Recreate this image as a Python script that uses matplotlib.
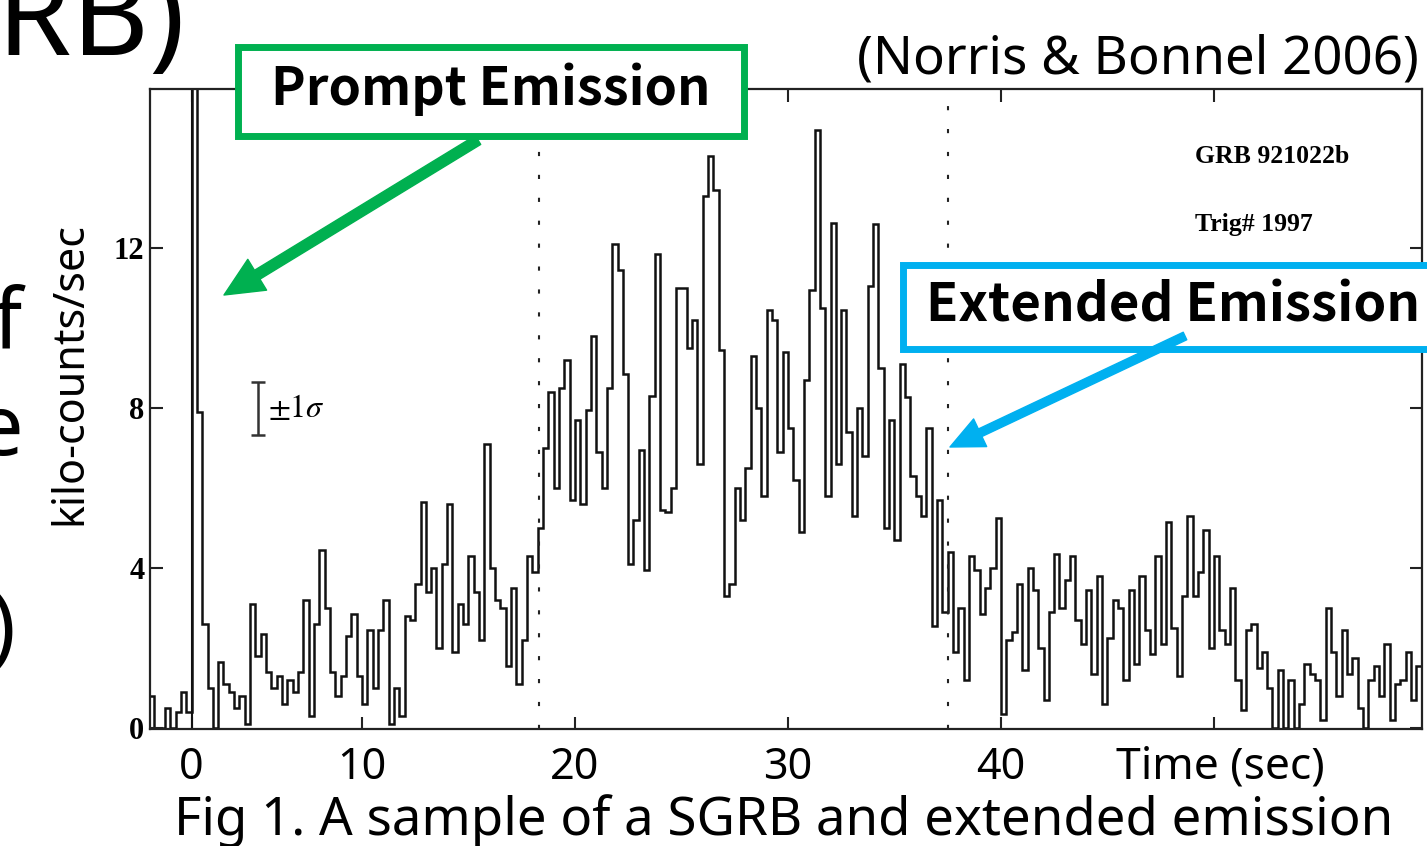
import numpy as np
import matplotlib.pyplot as plt
from matplotlib.patches import Rectangle, FancyArrowPatch

# canvas size in pixels (the reference is a slide crop)
W, H = 1427, 846

# GRB 921022b light curve, 0.25 s bins, kilo-counts/sec
bin_width = 0.25
counts = [
    0.8, 0.0, 0.0, 0.5, 0.0, 0.4, 0.9, 0.4, 25.0, 7.9,
    2.6, 1.0, 0.0, 1.65, 1.1, 0.9, 0.5, 0.8, 0.1, 3.1,
    1.8, 2.35, 1.4, 1.0, 1.3, 0.6, 1.2, 0.9, 1.4, 3.2,
    0.3, 2.6, 4.45, 3.0, 1.4, 0.8, 1.3, 2.3, 2.85, 1.3,
    0.6, 2.45, 1.0, 2.45, 3.2, 0.1, 1.0, 0.3, 2.8, 2.7,
    3.6, 5.65, 3.4, 4.0, 2.0, 4.1, 5.6, 1.9, 3.1, 2.6,
    4.3, 3.4, 2.2, 7.1, 4.0, 3.2, 3.0, 1.55, 3.5, 1.1,
    2.2, 4.3, 3.9, 5.0, 7.0, 8.4, 6.0, 8.5, 9.2, 5.7,
    7.7, 5.6, 7.95, 9.8, 6.9, 6.0, 8.5, 12.1, 11.45, 8.85,
    4.1, 5.2, 6.95, 3.95, 8.3, 11.85, 5.45, 5.4, 6.0, 11.0,
    11.0, 9.5, 10.2, 6.6, 13.3, 14.3, 13.45, 9.45, 3.3, 3.6,
    6.0, 5.2, 6.5, 9.3, 8.0, 5.8, 10.45, 10.2, 6.9, 9.4,
    7.5, 6.2, 4.9, 8.7, 10.95, 14.95, 10.5, 5.8, 12.63, 6.6,
    10.46, 7.4, 5.3, 8.0, 6.8, 11.05, 12.6, 9.0, 5.0, 7.7,
    4.7, 9.1, 8.28, 6.3, 5.8, 5.3, 7.5, 2.55, 5.7, 2.9,
    4.4, 1.9, 3.0, 1.2, 4.3, 3.95, 2.85, 3.5, 4.0, 5.25,
    0.35, 2.2, 2.4, 3.6, 1.45, 4.0, 3.45, 2.0, 0.7, 2.9,
    4.35, 3.0, 3.7, 4.3, 2.7, 2.1, 3.45, 1.35, 3.8, 0.6,
    2.25, 3.2, 3.0, 1.2, 3.45, 1.6, 3.8, 2.45, 1.85, 4.3,
    2.1, 5.15, 2.5, 1.3, 3.3, 5.3, 3.3, 3.9, 4.95, 2.0,
    4.3, 2.45, 2.1, 3.5, 1.2, 0.45, 2.45, 2.6, 1.5, 1.9,
    1.0, 0.0, 1.45, 0.0, 1.2, 0.0, 0.6, 1.6, 1.35, 1.2,
    0.2, 3.0, 1.9, 0.8, 2.45, 1.35, 1.75, 0.5, 0.0, 1.2,
    1.55, 0.8, 2.1, 0.2, 1.1, 1.2, 1.9, 0.7, 1.55,
]

trigger_time = 2.0
ee_bounds = [18.3, 37.5]          # dotted lines
xtick_pos = [2.0, 10, 20, 30, 40, 50]
xtick_lab = ['0', '10', '20', '30', '40', '']
ytick_pos = [0, 4, 8, 12]
sigma_t, sigma_y, sigma_err = 5.12, 7.99, 0.66

green = '#00B050'
blue = '#00B0F0'
sans = ['Noto Sans', 'DejaVu Sans']
jp = ['Noto Sans CJK JP', 'DejaVu Sans']


def fx(x):
    return x / W


def fy(y):
    return 1 - y / H


fig = plt.figure(figsize=(W / 100, H / 100), dpi=100)
ax_w = (1422 - 150) / W
ax = fig.add_axes([fx(150), fy(729), ax_w, (729 - 89) / H])

edges = np.arange(len(counts) + 1) * bin_width
ax.stairs(counts, edges, color='#111111', lw=1.8, baseline=None)

ax.axvline(trigger_time, color='#111111', lw=1.5)
for t in ee_bounds:
    ax.axvline(t, color='#222222', lw=1.5, ls=(0, (2, 9)))

# +-1 sigma error bar
ax.errorbar([sigma_t], [sigma_y], yerr=[sigma_err], color='#333333',
            capsize=5, elinewidth=1.8, capthick=1.8, fmt='none')
ax.text(sigma_t + 0.45, sigma_y, r'$\pm 1\sigma$', fontsize=23,
        va='center', ha='left', math_fontfamily='stix')

ax.text(49.1, 14.3, 'GRB 921022b', fontsize=18.5, fontfamily='Liberation Serif',
        fontweight='bold', va='center')
ax.text(49.1, 12.6, 'Trig# 1997', fontsize=18.5, fontfamily='Liberation Serif',
        fontweight='bold', va='center')

ax.set_xlim(0.05, 59.77)
ax.set_ylim(-0.03, 15.98)
ax.set_xticks(xtick_pos)
ax.set_xticklabels(xtick_lab, fontfamily=sans, fontsize=31)
ax.set_yticks(ytick_pos)
ax.set_yticklabels([str(v) for v in ytick_pos], fontfamily='Liberation Serif',
                   fontsize=22, fontweight='bold')
ax.tick_params(direction='in', length=9, width=1.5, top=True, right=True,
               color='#222222')
ax.tick_params(axis='x', pad=12)
ax.tick_params(axis='y', pad=4)
for s in ax.spines.values():
    s.set_linewidth(1.6)
    s.set_color('#222222')

ax.set_ylabel('kilo-counts/sec', fontfamily=sans, fontsize=31)
ax.yaxis.set_label_coords((92 - 150) / 1272, 0.555)

fig.text(fx(1220), fy(778), 'Time (sec)', fontfamily=sans, fontsize=32,
         ha='center', va='baseline')
fig.text(fx(784), fy(835), 'Fig 1. A sample of a SGRB and extended emission',
         fontfamily=sans, fontsize=38, ha='center', va='baseline')
fig.text(fx(1419), fy(60), '(Norris & Bonnel 2006)', fontfamily=sans,
         fontsize=38, ha='right', va='center')

# leftovers of the slide text on the left edge
fig.text(fx(186), fy(55), 'GRB)', fontfamily=sans, fontsize=86,
         ha='right', va='baseline')
fig.text(fx(22), fy(348), 'of', fontfamily=sans, fontsize=60, ha='right',
         va='baseline')
fig.text(fx(24), fy(455), 'the', fontfamily=sans, fontsize=60, ha='right',
         va='baseline')
fig.text(fx(16), fy(655), '(1)', fontfamily=sans, fontsize=60, ha='right',
         va='baseline')

# annotation boxes
fig.add_artist(Rectangle((fx(237.5), fy(136)), fx(744 - 237.5), (136 - 47) / H,
                         transform=fig.transFigure, facecolor='white',
                         edgecolor=green, lw=5))
fig.text(fx(491), fy(89), 'Prompt Emission', fontfamily=jp, fontsize=37.5,
         fontweight='bold', ha='center', va='center')
fig.add_artist(Rectangle((fx(902.5), fy(349)), fx(1440 - 902.5), (349 - 265.5) / H,
                         transform=fig.transFigure, facecolor='white',
                         edgecolor=blue, lw=5))
fig.text(fx(1173), fy(306), 'Extended Emission', fontfamily=jp, fontsize=38,
         fontweight='bold', ha='center', va='center')

fig.add_artist(FancyArrowPatch((fx(478), fy(140)), (fx(224), fy(295)),
                               transform=fig.transFigure, color=green,
                               arrowstyle='simple,head_length=28,head_width=26,tail_width=7.5',
                               shrinkA=0, shrinkB=0))
fig.add_artist(FancyArrowPatch((fx(1185), fy(336)), (fx(950), fy(447)),
                               transform=fig.transFigure, color=blue,
                               arrowstyle='simple,head_length=24,head_width=22,tail_width=6',
                               shrinkA=0, shrinkB=0))

fig.savefig('out.png', dpi=100)
